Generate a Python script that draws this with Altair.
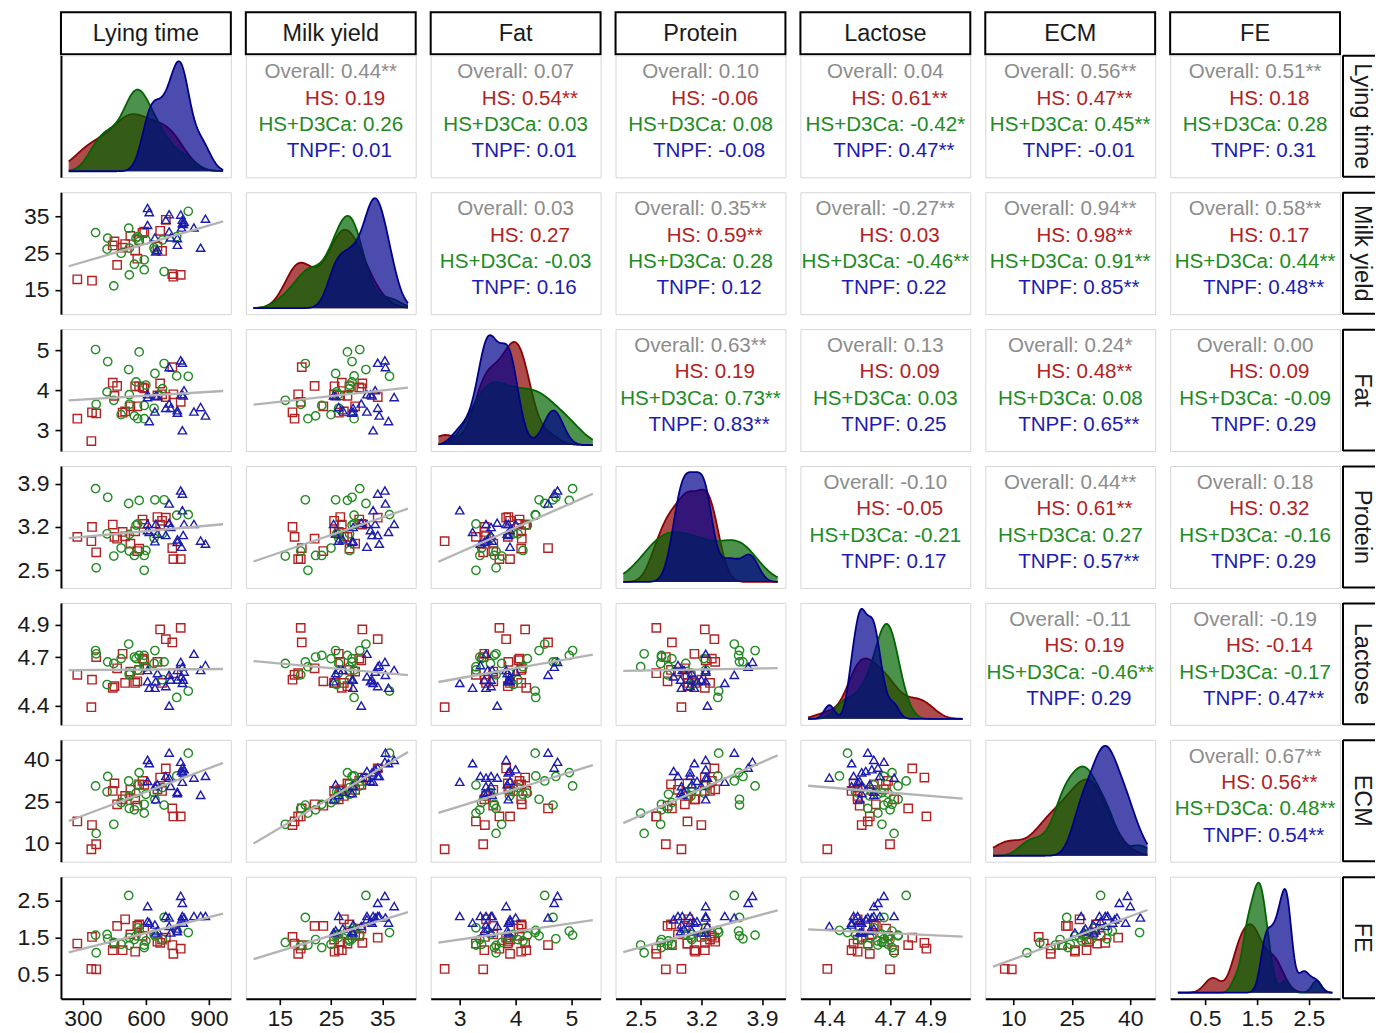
import altair as alt
import numpy as np
import pandas as pd

NBSP = "\u00a0"
ZWSP = "\u200b"
FONT = "Liberation Sans"

VAR_LABELS = ["Lying time", "Milk yield", "Fat", "Protein", "Lactose", "ECM", "FE"]
VAR_KEYS = ["lying", "milk", "fat", "protein", "lactose", "ecm", "fe"]
GROUPS = ["HS", "HS+D3Ca", "TNPF"]

# ---- HS (red squares) ----
HS_lying = [273, 343, 340, 363, 442, 450, 463, 489, 501, 526, 549, 559, 568, 584, 592, 655, 668, 677, 695, 726, 731, 766]
HS_milk = [17.9, 17.5, None, None, 27.1, 28.2, 21.8, 26.5, 27.5, 29.7, 25.7, 23.5, 28.6, 30.5, 30.9, 26.8, 31.1, 25.6, 34.1, 19.3, 18.6, 19.1]
HS_fat = [3.29, 3.45, 2.73, 3.42, 4.19, 3.86, 4.11, 3.44, 3.47, 3.60, 4.10, 3.60, 4.10, 4.07, 4.05, 3.87, 4.17, 3.90, 3.83, 4.58, 3.90, 3.71]
HS_protein = [3.04, 3.20, 2.97, 2.79, 3.24, 3.04, 3.01, 3.12, 3.05, 2.93, 3.13, 2.81, 2.85, 3.32, 3.25, 3.36, 3.24, 3.30, 3.35, 2.86, 2.68, 2.68]
HS_lactose = [4.59, 4.56, 4.39, 4.70, 4.51, 4.52, 4.63, 4.72, 4.54, 4.61, 4.54, 4.55, 4.62, 4.69, 4.68, 4.67, 4.87, 4.54, 4.81, 4.79, 4.60, 4.88]
HS_ecm = [17.8, 16.5, 7.8, 9.6, 28.8, 31.5, 24.0, 25.8, 27.0, 29.2, 25.8, 23.5, 31.2, 32.4, 31.0, 29.4, 33.6, 28.8, 36.9, 22.5, 19.6, 19.6]
HS_fe = [1.34, 1.52, 0.65, 0.64, 1.16, 1.34, 1.82, 1.16, 2.00, 1.59, 1.12, 1.82, 1.86, 1.55, 1.75, 1.39, 1.36, 1.45, 1.50, 1.30, 1.06, 1.20]

# ---- HS+D3Ca (green circles) ----
D3_lying = [360, 363, 418, 415, 447, 482, 518, 521, 521, 545, 553, 561, 568, 592, 592, 600, 639, 643, 679, 687, 747, 802]
D3_milk = [30.6, None, 29.1, 26.1, 16.1, 25.0, 31.8, 19.1, 26.4, 22.0, 29.1, 29.5, 28.2, 23.2, 20.5, 28.6, 26.5, 25.9, 28.6, 20.0, 29.5, 36.4]
D3_fat = [5.02, 3.65, 4.72, 3.96, 3.75, 3.39, 4.52, 3.65, 3.89, 3.36, 4.21, 3.29, 4.96, 3.62, 3.29, 4.13, 3.55, 4.42, 4.04, 4.67, 4.36, 4.35]
D3_protein = [3.82, 2.54, 3.68, 3.09, 2.73, 2.86, 3.58, 2.81, 3.08, 2.74, 3.23, 3.25, 3.63, 2.74, 2.50, 2.82, 3.02, 3.64, 3.09, 3.64, 3.39, 3.40]
D3_lactose = [4.74, 4.72, 4.67, 4.53, 4.66, 4.69, 4.78, 4.59, 4.60, 4.70, 4.69, 4.62, 4.71, 4.71, 4.64, 4.64, 4.66, 4.74, 4.56, 4.67, 4.45, 4.49]
D3_ecm = [30.6, 13.5, 34.0, 28.5, 16.8, 24.6, 32.4, 22.5, 27.0, 22.0, 28.0, 30.9, 35.4, 24.0, 20.8, 27.6, 28.2, 25.8, 30.0, 23.7, 34.2, 42.4]
D3_fe = [1.57, 1.09, 1.47, 1.59, 1.37, 1.32, 2.65, 1.29, 1.50, 1.45, 1.55, 1.77, 1.68, 1.23, 1.30, 1.41, 1.59, 1.55, 1.45, 2.05, 1.70, 1.64]

# ---- TNPF (blue triangles) ----
TNPF_lying = [608, 616, 608, 643, 647, 655, 695, 711, 711, 718, 750, 750, 766, 774, 774, 782, 778, 770, 829, 861, 884]
TNPF_milk = [37.3, 36.2, 32.7, 29.3, 25.5, 25.9, 34.1, 35.6, 30.9, 29.3, 29.1, 27.3, 35.5, 34.1, 33.2, 33.6, 33.0, 32.0, 32.0, 26.5, 34.4]
TNPF_fat = [3.83, 3.23, 3.90, 3.47, 3.87, 3.85, 3.56, 4.58, 3.67, 3.56, 3.44, 3.50, 4.75, 4.69, 3.00, 4.00, 3.87, 3.90, 3.47, 3.58, 3.37]
TNPF_protein = [3.25, 3.12, 3.15, 2.97, 3.25, 3.09, 3.07, 3.58, 3.27, 3.20, 2.96, 3.00, 3.79, 3.74, 3.47, 3.25, 3.07, 2.88, 3.25, 2.98, 2.93]
TNPF_lactose = [4.62, 4.51, 4.55, 4.51, 4.55, 4.60, 4.52, 4.59, 4.40, 4.56, 4.56, 4.62, 4.67, 4.64, 4.54, 4.61, 4.56, 4.58, 4.72, 4.62, 4.65]
TNPF_ecm = [40.0, 38.8, 32.4, 30.5, 25.8, 31.2, 34.2, 42.6, 33.6, 30.6, 28.0, 28.5, 39.3, 37.2, 32.1, 36.6, 35.5, 36.0, 33.6, 27.4, 34.2]
TNPF_fe = [2.36, 1.91, 1.95, 1.86, 1.64, 1.70, 2.09, 2.05, 1.82, 1.64, 1.68, 1.75, 2.64, 2.45, 2.09, 2.05, 1.91, 2.00, 2.09, 2.09, 2.09]

# ---- correlation labels (upper triangle, row i, columns i+1..6) ----
COR_OVERALL = [
    ["0.44**", "0.07", "0.10", "0.04", "0.56**", "0.51**"],
    ["0.03", "0.35**", "-0.27**", "0.94**", "0.58**"],
    ["0.63**", "0.13", "0.24*", "0.00"],
    ["-0.10", "0.44**", "0.18"],
    ["-0.11", "-0.19"],
    ["0.67**"],
]
COR_HS = [
    ["0.19", "0.54**", "-0.06", "0.61**", "0.47**", "0.18"],
    ["0.27", "0.59**", "0.03", "0.98**", "0.17"],
    ["0.19", "0.09", "0.48**", "0.09"],
    ["-0.05", "0.61**", "0.32"],
    ["0.19", "-0.14"],
    ["0.56**"],
]
COR_D3 = [
    ["0.26", "0.03", "0.08", "-0.42*", "0.45**", "0.28"],
    ["-0.03", "0.28", "-0.46**", "0.91**", "0.44**"],
    ["0.73**", "0.03", "0.08", "-0.09"],
    ["-0.21", "0.27", "-0.16"],
    ["-0.46**", "-0.17"],
    ["0.48**"],
]
COR_TNPF = [
    ["0.01", "0.01", "-0.08", "0.47**", "-0.01", "0.31"],
    ["0.16", "0.12", "0.22", "0.85**", "0.48**"],
    ["0.83**", "0.25", "0.65**", "0.29"],
    ["0.17", "0.57**", "0.29"],
    ["0.29", "0.47**"],
    ["0.54**"],
]

# ---- axes ----
X_DOMAIN = {"lying": [195, 1005], "milk": [8.4, 41.5], "fat": [2.48, 5.52], "protein": [2.21, 4.17],
            "lactose": [4.257, 5.097], "ecm": [2.8, 46.4], "fe": [-0.17, 3.10]}
Y_DOMAIN = {"lying": [195, 1005], "milk": [8.4, 41.6], "fat": [2.48, 5.53], "protein": [2.214, 4.186],
            "lactose": [4.281, 5.034], "ecm": [3.3, 47.2], "fe": [-0.16, 3.16]}
TICKS = {"lying": [300, 600, 900], "milk": [15, 25, 35], "fat": [3, 4, 5], "protein": [2.5, 3.2, 3.9],
         "lactose": [4.4, 4.7, 4.9], "ecm": [10, 25, 40], "fe": [0.5, 1.5, 2.5]}
FMT = {"lying": "d", "milk": "d", "fat": "d", "protein": ".1f", "lactose": ".1f", "ecm": "d", "fe": ".1f"}

PT_COLORS = ["#b22222", "#228b22", "#1c1cb0"]
DARK = ["#8b0000", "#006400", "#00008b"]
TXT_COLORS = ["#8c8c8c", "#b22222", "#228b22", "#1c1cb0"]
PW, PH = 170, 122

groups_src = {
    "HS": [HS_lying, HS_milk, HS_fat, HS_protein, HS_lactose, HS_ecm, HS_fe],
    "HS+D3Ca": [D3_lying, D3_milk, D3_fat, D3_protein, D3_lactose, D3_ecm, D3_fe],
    "TNPF": [TNPF_lying, TNPF_milk, TNPF_fat, TNPF_protein, TNPF_lactose, TNPF_ecm, TNPF_fe],
}
frames = []
for g, cols in groups_src.items():
    d = {k: v for k, v in zip(VAR_KEYS, cols)}
    d["group"] = [g] * len(cols[0])
    frames.append(pd.DataFrame(d))
df = pd.concat(frames, ignore_index=True)


def nrd0(vals):
    x = np.array([v for v in vals if v is not None], dtype=float)
    sd = x.std(ddof=1)
    q75, q25 = np.percentile(x, [75, 25])
    lo = min(sd, (q75 - q25) / 1.34)
    if lo <= 0:
        lo = sd
    return 0.9 * lo * len(x) ** (-0.2)


def inset(dom):
    a, b = dom
    e = (b - a) / 22.0
    return [a + e, b - e]


NOVIEW = alt.ViewBackground(strokeOpacity=0)


def y_axis_for(k):
    return alt.Axis(values=TICKS[k], format=FMT[k], title=None, grid=False, tickSize=6, labelPadding=6)


def x_axis_for(k):
    return alt.Axis(values=TICKS[k], format=FMT[k], title=None, grid=False, tickSize=6, labelPadding=3)


def scatter_panel(i, j):
    kx, ky = VAR_KEYS[j], VAR_KEYS[i]
    xa = x_axis_for(kx) if i == 6 else None
    ya = y_axis_for(ky) if j == 0 else None
    xenc = alt.X(f"{kx}:Q", scale=alt.Scale(domain=X_DOMAIN[kx], nice=False, zero=False), axis=xa)
    yenc = alt.Y(f"{ky}:Q", scale=alt.Scale(domain=Y_DOMAIN[ky], nice=False, zero=False), axis=ya)
    base = alt.Chart(df)
    pts = base.mark_point(filled=False, size=70, strokeWidth=1.4, opacity=1).encode(
        x=xenc, y=yenc,
        color=alt.Color("group:N", scale=alt.Scale(domain=GROUPS, range=PT_COLORS), legend=None),
        shape=alt.Shape("group:N", scale=alt.Scale(domain=GROUPS, range=["square", "circle", "triangle-up"]), legend=None),
    )
    line = base.transform_filter(f"isValid(datum['{kx}']) && isValid(datum['{ky}'])").transform_regression(
        kx, ky, extent=inset(X_DOMAIN[kx])
    ).mark_line(color="#b3b3b3", strokeWidth=2.3).encode(x=xenc, y=yenc)
    return alt.layer(pts, line).properties(width=PW, height=PH)


def density_panel(i):
    k = VAR_KEYS[i]
    xa = x_axis_for(k) if i == 6 else None
    ya = alt.Axis(ticks=False, labels=False, grid=False, title=None, domain=True) if i == 0 else None
    xenc = alt.X(f"{k}:Q", scale=alt.Scale(domain=X_DOMAIN[k], nice=False, zero=False), axis=xa)
    yenc = alt.Y("density:Q", scale=alt.Scale(zero=True, nice=False, padding=6), axis=ya)
    layers = []
    for gi, g in enumerate(GROUPS):
        bw = nrd0(groups_src[g][i])
        base = alt.Chart(df).transform_filter(alt.datum.group == g).transform_filter(
            f"isValid(datum['{k}'])"
        ).transform_density(k, as_=[k, "density"], bandwidth=bw, extent=inset(X_DOMAIN[k]), steps=200)
        layers.append(base.mark_area(fill=DARK[gi], fillOpacity=0.7, strokeOpacity=0).encode(x=xenc, y=yenc))
        layers.append(base.mark_line(color=DARK[gi], strokeWidth=1.8).encode(x=xenc, y=yenc))
    return alt.layer(*layers).properties(width=PW, height=PH)


def cor_panel(i, j):
    idx = j - i - 1
    vals = [COR_OVERALL[i][idx], COR_HS[i][idx], COR_D3[i][idx], COR_TNPF[i][idx]]
    names = ["Overall", "HS", "HS+D3Ca", "TNPF"]
    # names right-justified to a common width (as in ggpairs), then the whole line centred
    labels = [ZWSP + n.rjust(7, NBSP) + ": " + v for n, v in zip(names, vals)]
    d = pd.DataFrame({"line": [0, 1, 2, 3], "label": labels, "col": TXT_COLORS})
    return alt.Chart(d).mark_text(font=FONT, fontSize=20.6, align="center", baseline="middle").encode(
        x=alt.value(PW / 2),
        y=alt.Y("line:O", scale=alt.Scale(range=[17.0, 96.0], padding=0), axis=None),
        text="label:N",
        color=alt.Color("col:N", scale=None),
    ).properties(width=PW, height=PH)


def strip_top(j):
    d = pd.DataFrame({"t": [VAR_LABELS[j]]})
    box = alt.Chart(d).mark_rect(fill="white", stroke="black", strokeWidth=2).encode(
        x=alt.value(0), x2=alt.value(PW), y=alt.value(0), y2=alt.value(42))
    txt = alt.Chart(d).mark_text(font=FONT, fontSize=23.5, color="#1a1a1a", align="center", baseline="middle").encode(
        x=alt.value(PW / 2), y=alt.value(22), text="t:N")
    return alt.layer(box, txt).properties(width=PW, height=28, view=NOVIEW)


def strip_right(i):
    d = pd.DataFrame({"t": [VAR_LABELS[i]]})
    top = alt.Chart(d).mark_rule(color="black", strokeWidth=2).encode(x=alt.value(-12), x2=alt.value(20), y=alt.value(0.5))
    bot = alt.Chart(d).mark_rule(color="black", strokeWidth=2).encode(x=alt.value(-12), x2=alt.value(20), y=alt.value(PH - 0.5))
    left = alt.Chart(d).mark_rule(color="black", strokeWidth=2).encode(x=alt.value(-12), y=alt.value(0), y2=alt.value(PH))
    txt = alt.Chart(d).mark_text(font=FONT, fontSize=23.5, color="#1a1a1a", align="center", baseline="middle", angle=90).encode(
        x=alt.value(7), y=alt.value(PH / 2), text="t:N")
    return alt.layer(top, bot, left, txt).properties(width=20, height=PH, view=NOVIEW)


def empty_cell():
    d = pd.DataFrame({"t": [0]})
    return alt.Chart(d).mark_point(opacity=0, size=4).encode(x=alt.value(10), y=alt.value(14)).properties(
        width=20, height=28, view=NOVIEW)


cells = [strip_top(j) for j in range(7)] + [empty_cell()]
for i in range(7):
    for j in range(7):
        if i == j:
            cells.append(density_panel(i))
        elif i > j:
            cells.append(scatter_panel(i, j))
        else:
            cells.append(cor_panel(i, j))
    cells.append(strip_right(i))

chart = alt.concat(*cells, columns=8, spacing=15, bounds="flush", align="each").properties(
    padding={"left": 16, "top": 11, "right": 0, "bottom": 0},
    background="white",
).configure_view(
    stroke="#d6d6d6", strokeWidth=1
).configure_axis(
    labelFont=FONT, labelFontSize=23, labelColor="#1a1a1a",
    domainColor="black", domainWidth=2, tickColor="black", tickWidth=1.6,
)

chart.save("out.html", embed_options={"renderer": "svg", "actions": False})
